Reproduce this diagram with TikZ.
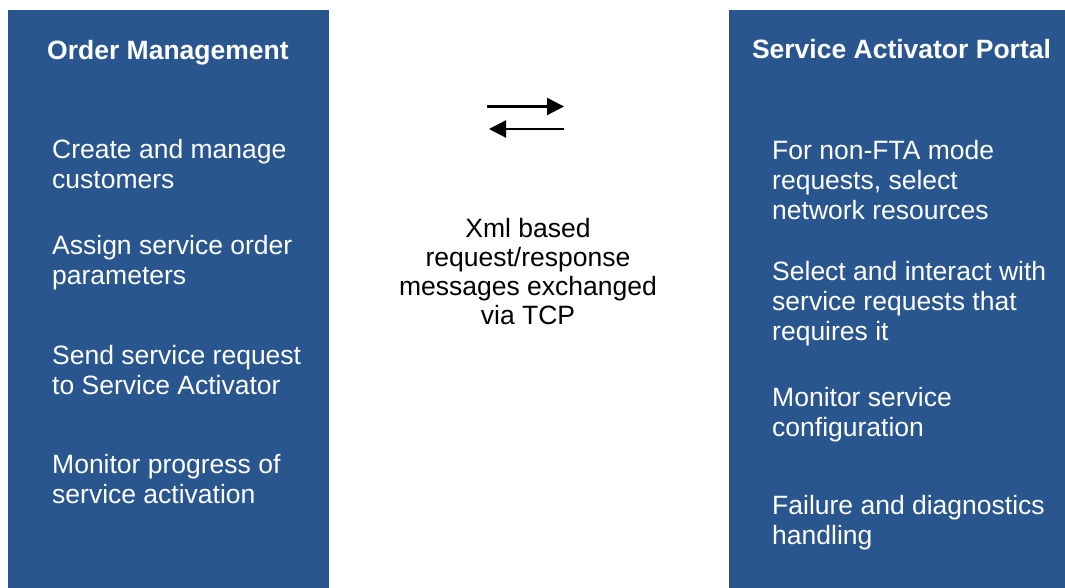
\documentclass[tikz,border=0pt]{standalone}
\usepackage{fontspec}
\setmainfont{Liberation Sans}
\usetikzlibrary{arrows.meta, positioning}
\definecolor{panelblue}{RGB}{42,86,144}
\tikzset{
  panel/.style={
    rectangle, fill=panelblue, draw=none,
    inner sep=0pt, anchor=north west
  },
  paneltitle/.style={font=\fontsize{26.5}{30}\selectfont\bfseries,
                     text=white, inner sep=0pt, anchor=base},
  item/.style={font=\fontsize{26.5}{30}\selectfont, text=white,
               align=left, inner sep=0pt, anchor=base west},
  note/.style={font=\fontsize{26.5}{29.3}\selectfont, text=black,
               align=center, inner sep=0pt, anchor=base},
  arrow/.style={-{Triangle[length=17pt, width=17pt]}, line width=2.3pt, black}
}

\begin{document}
\begin{tikzpicture}[x=1pt, y=1pt]
  \useasboundingbox (0,0) rectangle (1065,588);

  % the two panels
  \node[panel, minimum width=321pt, minimum height=578pt] (om) at (8,578) {};
  \node[panel, minimum width=336pt, minimum height=578pt] (sap) at (729,578) {};

  \node[paneltitle] (omtitle)  at (168,528) {Order Management};
  \node[paneltitle] (saptitle) at (901.5,529) {Service Activator Portal};

  % order management tasks (placed by their last line)
  \node[item] (om1) at (52,399) {Create and manage\\customers};
  \node[item] (om2) at (52,303) {Assign service order\\parameters};
  \node[item] (om3) at (52,193) {Send service request\\to Service Activator};
  \node[item] (om4) at (52,84)  {Monitor progress of\\service activation};

  % service activator tasks
  \node[item] (sap1) at (772,368) {For non-FTA mode\\requests, select\\network resources};
  \node[item] (sap2) at (772,247) {Select and interact with\\service requests that\\requires it};
  \node[item] (sap3) at (772,151) {Monitor service\\configuration};
  \node[item] (sap4) at (772,43)  {Failure and diagnostics\\handling};

  % exchange between them
  \coordinate (fwdA) at (487,481.5);
  \coordinate[right=77pt of fwdA] (fwdB);
  \coordinate[below=22.5pt of fwdB] (backA);
  \coordinate[left=75pt of backA] (backB);
  \draw[arrow] (fwdA) -- (fwdB);
  \draw[arrow] (backA) -- (backB);

  \node[note] (xml) at (528,263)
       {Xml based\\request/response\\messages exchanged\\via TCP};

\end{tikzpicture}
\end{document}
